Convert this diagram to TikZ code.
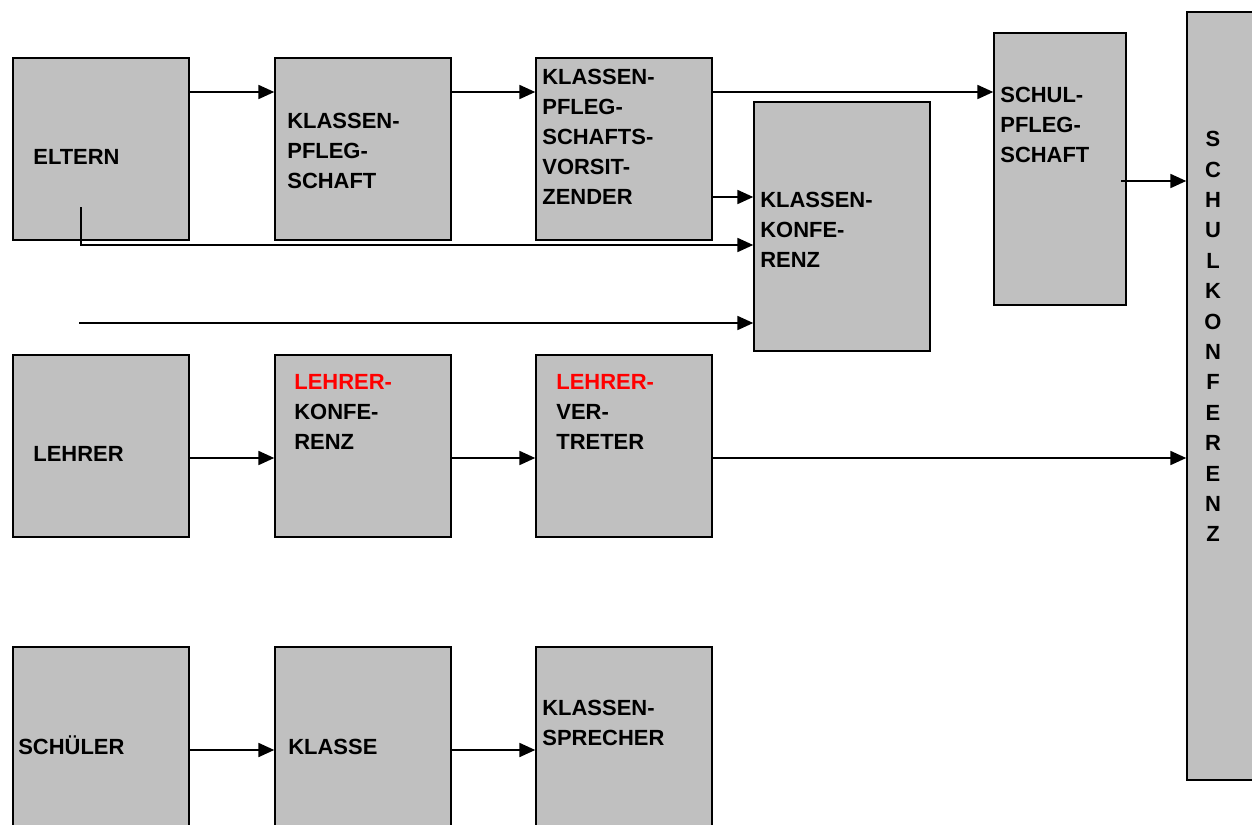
\documentclass[tikz,border=0pt]{standalone}
\usepackage{fontspec}
\setmainfont{Liberation Sans}
\usetikzlibrary{arrows.meta}
\definecolor{boxgray}{HTML}{C0C0C0}
\tikzset{
  box/.style={draw, fill=boxgray, line width=0.9pt, inner sep=0pt},
  boxA/.style={box, minimum width=3.52cm, minimum height=3.64cm},
  lbl/.style={font=\bfseries\fontsize{12.5}{17}\selectfont, align=left, inner sep=0pt, anchor=north west},
  pfeil/.style={-{Triangle[length=9pt,width=8pt]}, line width=0.9pt},
}
\begin{document}
\begin{tikzpicture}[x=0.02cm, y=-0.02cm]
        \useasboundingbox (0,0) rectangle (1252,825);
        % boxes
        \node[boxA] (eltern) at (101,149) {};
        \node[boxA] (kps) at (363,149) {};
        \node[boxA] (kpsv) at (624,149) {};
        \node[box, minimum width=3.52cm, minimum height=4.98cm] (kk) at (842,226.5) {};
        \node[box, minimum width=2.64cm, minimum height=5.44cm] (spf) at (1060,169) {};
        \node[box, minimum width=1.5cm, minimum height=15.36cm] (skf) at (1224.5,396) {};
        \node[boxA] (lehrer) at (101,446) {};
        \node[boxA] (lk) at (363,446) {};
        \node[boxA] (lv) at (624,446) {};
        \node[box, minimum width=3.52cm, minimum height=3.86cm] (schueler) at (101,743.5) {};
        \node[box, minimum width=3.52cm, minimum height=3.86cm] (klasse) at (363,743.5) {};
        \node[box, minimum width=3.52cm, minimum height=3.86cm] (ks) at (624,743.5) {};

        % labels
        \node[lbl] (t-eltern) at (33,149) {ELTERN};
        \node[lbl] (t-kps) at (287,113) {KLASSEN-\\PFLEG-\\SCHAFT};
        \node[lbl] (t-kpsv) at (542,69) {KLASSEN-\\PFLEG-\\SCHAFTS-\\VORSIT-\\ZENDER};
        \node[lbl] (t-kk) at (760,192) {KLASSEN-\\KONFE-\\RENZ};
        \node[lbl] (t-spf) at (1000,87) {SCHUL-\\PFLEG-\\SCHAFT};
        \node[lbl, anchor=north, align=center, font=\bfseries\fontsize{12.5}{17.3}\selectfont] (t-skf) at (1213,131)
          {S\\C\\H\\U\\L\\K\\O\\N\\F\\E\\R\\E\\N\\Z};
        \node[lbl] (t-lehrer) at (33,446) {LEHRER};
        \node[lbl] (t-lk) at (294,374) {\textcolor{red}{LEHRER-}\\KONFE-\\RENZ};
        \node[lbl] (t-lv) at (556,374) {\textcolor{red}{LEHRER-}\\VER-\\TRETER};
        \node[lbl, anchor=base west] (t-schueler) at (18,754) {SCHÜLER};
        \node[lbl, anchor=base west] (t-klasse) at (288,754) {KLASSE};
        \node[lbl] (t-ks) at (542,700) {KLASSEN-\\SPRECHER};

        % rows for the arrows
        \coordinate (r1) at (0,92);
        \coordinate (r2) at (0,197);
        \coordinate (r3) at (0,245);
        \coordinate (r6) at (0,458);
        \coordinate (r7) at (0,750);
        \coordinate (e1) at (81,207);
        \coordinate (f1) at (79,323);
        \coordinate (s1) at (1121,181);

        % arrows
        \draw[pfeil] (eltern.east |- r1) -- (kps.west |- r1);
        \draw[pfeil] (kps.east |- r1) -- (kpsv.west |- r1);
        \draw[pfeil] (kpsv.east |- r1) -- (spf.west |- r1);
        \draw[pfeil] (kpsv.east |- r2) -- (kk.west |- r2);
        \draw[pfeil] (e1) |- (kk.west |- r3);
        \draw[pfeil] (f1) -- (kk.west |- f1);
        \draw[pfeil] (s1) -- (skf.west |- s1);
        \draw[pfeil] (lehrer.east |- r6) -- (lk.west |- r6);
        \draw[pfeil] (lk.east |- r6) -- (lv.west |- r6);
        \draw[pfeil] (lv.east |- r6) -- (skf.west |- r6);
        \draw[pfeil] (schueler.east |- r7) -- (klasse.west |- r7);
        \draw[pfeil] (klasse.east |- r7) -- (ks.west |- r7);
\end{tikzpicture}
\end{document}
